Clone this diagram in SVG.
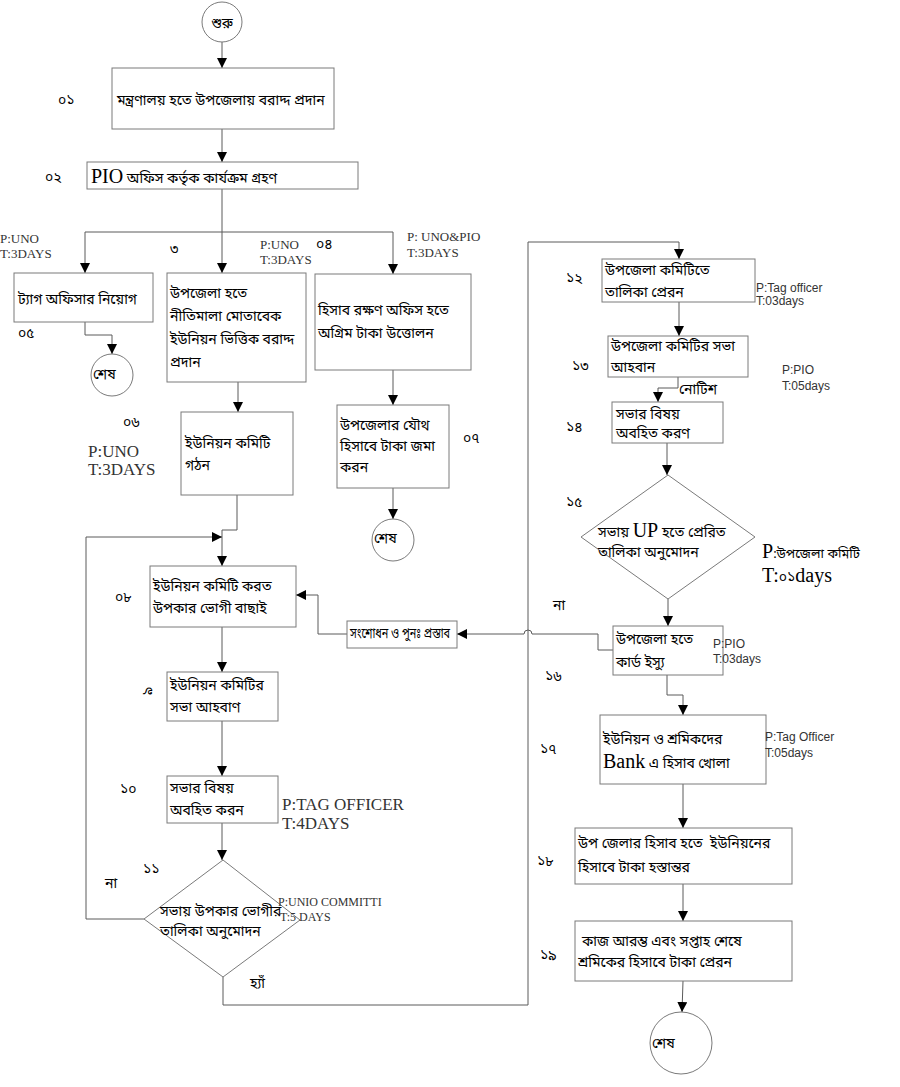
<svg xmlns="http://www.w3.org/2000/svg" width="900" height="1087" viewBox="0 0 900 1087">
<defs>
<marker id="ah" markerWidth="10" markerHeight="10" refX="10" refY="5" orient="auto" markerUnits="userSpaceOnUse"><path d="M0,0 L10,5 L0,10 z" fill="#000"/></marker>
<style>
.box{fill:#fff;stroke:#7a7a7a;stroke-width:1}
.ln{fill:none;stroke:#5a5a5a;stroke-width:1}
.bn{font-family:"Noto Sans Bengali","Lohit Bengali","FreeSerif","Noto Sans",sans-serif;font-size:14px;fill:#000}
.num{font-family:"Noto Sans Bengali","Lohit Bengali","FreeSerif","Noto Sans",sans-serif;font-size:14px;fill:#000}
.ser{font-family:"Liberation Serif",serif;fill:#333}
.san{font-family:"Liberation Sans",sans-serif;font-size:12px;fill:#333}
.big{font-family:"Liberation Serif",serif;font-size:20px;fill:#000}
</style>
</defs>
<rect width="900" height="1087" fill="#fff"/>

<g id="connectors">
<path class="ln" d="M222,42 V68" marker-end="url(#ah)"/>
<path class="ln" d="M222,129 V162" marker-end="url(#ah)"/>
<path class="ln" d="M222,189 V273" marker-end="url(#ah)"/>
<path class="ln" d="M222,232 H85 V273" marker-end="url(#ah)"/>
<path class="ln" d="M222,232 H393 V274" marker-end="url(#ah)"/>
<path class="ln" d="M85,322 V335 H112 V354" marker-end="url(#ah)"/>
<path class="ln" d="M238,382 V412" marker-end="url(#ah)"/>
<path class="ln" d="M393,370 V405" marker-end="url(#ah)"/>
<path class="ln" d="M393,488 V519" marker-end="url(#ah)"/>
<path class="ln" d="M237,495 V530 H222 V566" marker-end="url(#ah)"/>
<path class="ln" d="M144,919 H86 V537 H222" marker-end="url(#ah)"/>
<path class="ln" d="M222,627 V672" marker-end="url(#ah)"/>
<path class="ln" d="M222,721 V776" marker-end="url(#ah)"/>
<path class="ln" d="M222,823 V860" marker-end="url(#ah)"/>
<path class="ln" d="M223,977 V1005 H528 V242 H679 V259" marker-end="url(#ah)"/>
<path class="ln" d="M679,302 V336" marker-end="url(#ah)"/>
<path class="ln" d="M678,377 V388 H658 V402" marker-end="url(#ah)"/>
<path class="ln" d="M667,443 V475" marker-end="url(#ah)"/>
<path class="ln" d="M668,599 V626" marker-end="url(#ah)"/>
<path class="ln" d="M613,650 H598 V634 H532 A4,4 0 0 0 524,634 H457" marker-end="url(#ah)"/>
<path class="ln" d="M347,634 H318 V595 H296" marker-end="url(#ah)"/>
<path class="ln" d="M667,675 V695 H683 V715" marker-end="url(#ah)"/>
<path class="ln" d="M683,784 V828" marker-end="url(#ah)"/>
<path class="ln" d="M683,884 V921" marker-end="url(#ah)"/>
<path class="ln" d="M683,981 L682,1012" marker-end="url(#ah)"/>
</g>

<g id="start">
<circle class="box" cx="222" cy="22" r="20"/>
<text class="bn" x="222" y="28" font-size="16" text-anchor="middle">শুরু</text>
</g>

<g id="n01">
<rect class="box" x="112" y="68" width="222" height="61"/>
<text class="bn" x="117" y="105">মন্ত্রণালয় হতে উপজেলায় বরাদ্দ প্রদান</text>
<text class="num" x="58" y="105">০১</text>
</g>

<g id="n02">
<rect class="box" x="87" y="162" width="271" height="27"/>
<text class="bn" x="91" y="183"><tspan class="big">PIO</tspan> অফিস কর্তৃক কার্যক্রম গ্রহণ</text>
<text class="num" x="45" y="182">০২</text>
</g>

<g id="n05">
<rect class="box" x="14" y="273" width="139" height="49"/>
<text class="bn" x="18" y="304" font-size="15">ট্যাগ অফিসার নিয়োগ</text>
<text class="num" x="18" y="338">০৫</text>
<text class="ser" x="0" y="243" font-size="13">P:UNO</text>
<text class="ser" x="0" y="258" font-size="13">T:3DAYS</text>
</g>

<g id="end1">
<circle class="box" cx="112" cy="375" r="21"/>
<text class="bn" x="93" y="379" font-size="9">শেষ</text>
</g>

<g id="n03">
<rect class="box" x="167" y="273" width="139" height="109"/>
<text class="bn" x="170" y="298" font-size="15">উপজেলা হতে</text>
<text class="bn" x="170" y="321" font-size="15">নীতিমালা মোতাবেক</text>
<text class="bn" x="170" y="344" font-size="15">ইউনিয়ন ভিত্তিক বরাদ্দ</text>
<text class="bn" x="170" y="367" font-size="15">প্রদান</text>
<text class="num" x="170" y="254">৩</text>
<text class="ser" x="260" y="249" font-size="13">P:UNO</text>
<text class="ser" x="260" y="264" font-size="13">T:3DAYS</text>
</g>

<g id="n04">
<rect class="box" x="315" y="274" width="156" height="96"/>
<text class="bn" x="318" y="315" font-size="15">হিসাব রক্ষণ অফিস হতে</text>
<text class="bn" x="318" y="338" font-size="15">অগ্রিম টাকা উত্তোলন</text>
<text class="num" x="316" y="249">০৪</text>
<text class="ser" x="407" y="241" font-size="13">P: UNO&amp;PIO</text>
<text class="ser" x="407" y="257" font-size="13">T:3DAYS</text>
</g>

<g id="n06">
<rect class="box" x="181" y="412" width="112" height="83"/>
<text class="bn" x="185" y="448">ইউনিয়ন কমিটি</text>
<text class="bn" x="185" y="470">গঠন</text>
<text class="num" x="123" y="427">০৬</text>
<text class="ser" x="88" y="457" font-size="17">P:UNO</text>
<text class="ser" x="88" y="475" font-size="17">T:3DAYS</text>
</g>

<g id="n07">
<rect class="box" x="337" y="405" width="112" height="83"/>
<text class="bn" x="340" y="430">উপজেলার যৌথ</text>
<text class="bn" x="340" y="451">হিসাবে টাকা জমা</text>
<text class="bn" x="340" y="472">করন</text>
<text class="num" x="463" y="443">০৭</text>
</g>

<g id="end2">
<circle class="box" cx="393" cy="540" r="21"/>
<text class="bn" x="374" y="543" font-size="8">শেষ</text>
</g>

<g id="n08">
<rect class="box" x="150" y="566" width="146" height="61"/>
<text class="bn" x="153" y="591">ইউনিয়ন কমিটি করত</text>
<text class="bn" x="153" y="613">উপকার ভোগী বাছাই</text>
<text class="num" x="115" y="602">০৮</text>
</g>

<g id="revise">
<rect class="box" x="347" y="621" width="110" height="27"/>
<text class="bn" x="350" y="638" font-size="8" textLength="100" lengthAdjust="spacingAndGlyphs">সংশোধন ও পুনঃ প্রস্তাব</text>
</g>

<g id="n09">
<rect class="box" x="167" y="672" width="111" height="49"/>
<text class="bn" x="170" y="690">ইউনিয়ন কমিটির</text>
<text class="bn" x="170" y="712">সভা আহবাণ</text>
<text class="num" transform="translate(152,695) rotate(-90)">৯</text>
</g>

<g id="n10">
<rect class="box" x="167" y="776" width="111" height="47"/>
<text class="bn" x="170" y="793">সভার বিষয়</text>
<text class="bn" x="170" y="815">অবহিত করন</text>
<text class="num" x="120" y="794">১০</text>
<text class="ser" x="282" y="810" font-size="17">P:TAG OFFICER</text>
<text class="ser" x="282" y="829" font-size="17">T:4DAYS</text>
</g>

<g id="n11">
<polygon class="box" points="223,860 300,920 223,977 144,919"/>
<text class="bn" x="160" y="916" font-size="13.5">সভায় উপকার ভোগীর</text>
<text class="bn" x="160" y="936" font-size="13.5">তালিকা অনুমোদন</text>
<text class="ser" x="278" y="906" font-size="12">P:UNIO COMMITTI</text>
<text class="ser" x="280" y="921" font-size="12">T:5 DAYS</text>
<text class="num" x="143" y="874">১১</text>
<text class="bn" x="105" y="888">না</text>
<text class="bn" x="250" y="988">হ্যাঁ</text>
</g>

<g id="n12">
<rect class="box" x="602" y="259" width="153" height="43"/>
<text class="bn" x="605" y="275">উপজেলা কমিটিতে</text>
<text class="bn" x="605" y="297">তালিকা প্রেরন</text>
<text class="num" x="566" y="283">১২</text>
<text class="san" x="756" y="292">P:Tag officer</text>
<text class="san" x="756" y="305">T:03days</text>
</g>

<g id="n13">
<rect class="box" x="608" y="336" width="140" height="41"/>
<text class="bn" x="611" y="351">উপজেলা কমিটির সভা</text>
<text class="bn" x="611" y="372">আহবান</text>
<text class="num" x="572" y="371">১৩</text>
<text class="san" x="782" y="374">P:PIO</text>
<text class="san" x="782" y="390">T:05days</text>
<text class="bn" x="679" y="394" font-size="10">নোটিশ</text>
</g>

<g id="n14">
<rect class="box" x="612" y="402" width="111" height="41"/>
<text class="bn" x="616" y="419" font-size="13">সভার বিষয়</text>
<text class="bn" x="616" y="438" font-size="13">অবহিত করণ</text>
<text class="num" x="566" y="432">১৪</text>
</g>

<g id="n15">
<polygon class="box" points="668,475 755,537 668,599 581,537"/>
<text class="bn" x="598" y="537">সভায় <tspan class="big">UP</tspan> হতে প্রেরিত</text>
<text class="bn" x="598" y="557">তালিকা অনুমোদন</text>
<text class="num" x="566" y="507">১৫</text>
<text class="bn" x="762" y="558"><tspan class="big">P</tspan><tspan font-size="13">:উপজেলা কমিটি</tspan></text>
<text class="big" x="762" y="582">T:<tspan class="bn" font-size="18">০১</tspan>days</text>
<text class="bn" x="553" y="610">না</text>
</g>

<g id="n16">
<rect class="box" x="613" y="626" width="110" height="49"/>
<text class="bn" x="616" y="644">উপজেলা হতে</text>
<text class="bn" x="616" y="667">কার্ড ইস্যু</text>
<text class="num" x="545" y="681">১৬</text>
<text class="san" x="713" y="648">P:PIO</text>
<text class="san" x="713" y="663">T:03days</text>
</g>

<g id="n17">
<rect class="box" x="600" y="715" width="166" height="69"/>
<text class="bn" x="603" y="744">ইউনিয়ন ও শ্রমিকদের</text>
<text class="bn" x="603" y="768"><tspan class="big" font-size="21">Bank</tspan> এ হিসাব খোলা</text>
<text class="num" x="540" y="754">১৭</text>
<text class="san" x="765" y="741">P:Tag Officer</text>
<text class="san" x="765" y="757">T:05days</text>
</g>

<g id="n18">
<rect class="box" x="575" y="828" width="217" height="56"/>
<text class="bn" x="578" y="848" xml:space="preserve">উপ জেলার হিসাব হতে  ইউনিয়নের</text>
<text class="bn" x="578" y="872">হিসাবে টাকা হস্তান্তর</text>
<text class="num" x="537" y="866">১৮</text>
</g>

<g id="n19">
<rect class="box" x="575" y="921" width="217" height="60"/>
<text class="bn" x="582" y="946">কাজ আরম্ভ এবং সপ্তাহ শেষে</text>
<text class="bn" x="578" y="967">শ্রমিকের হিসাবে টাকা প্রেরন</text>
<text class="num" x="540" y="960">১৯</text>
</g>

<g id="end3">
<circle class="box" cx="681" cy="1043" r="31"/>
<text class="bn" x="652" y="1048" font-size="13">শেষ</text>
</g>
</svg>
